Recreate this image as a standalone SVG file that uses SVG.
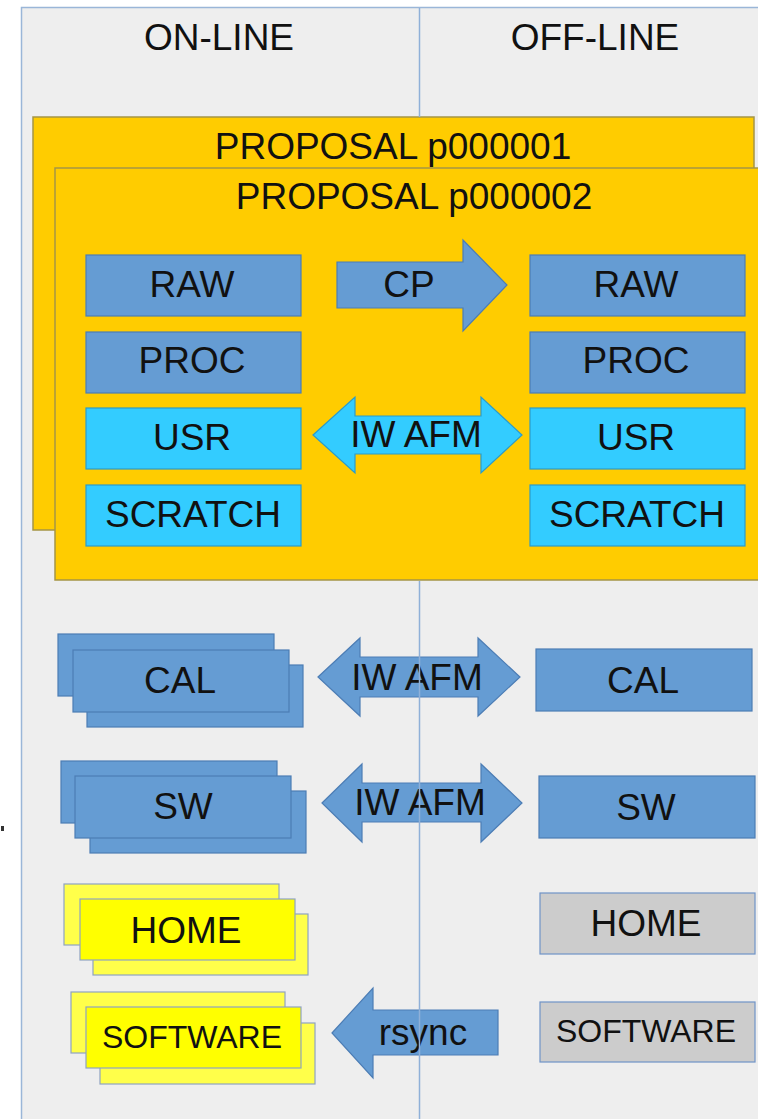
<svg xmlns="http://www.w3.org/2000/svg" width="758" height="1119" viewBox="0 0 758 1119">
<style>
text{font-family:"Liberation Sans",Arial,sans-serif;font-size:37px;fill:#111;text-anchor:middle}
.sm{font-size:32px}
.blue{fill:#659cd3;stroke:#4c7db5;stroke-width:1.2}
.cyan{fill:#33ccff;stroke:#2c9bc8;stroke-width:1.2}
.prop{fill:#ffcc00;stroke:#a59546;stroke-width:1.5}
.yel{fill:#ffff00;stroke:#8fa3c2;stroke-width:1.2}
.yelb{fill:#ffff4a;stroke:#8fa3c2;stroke-width:1.2}
.gray{fill:#cccccc;stroke:#6f93c7;stroke-width:1.2}
.div{stroke:#8fb0d8;stroke-width:1.5;fill:none}
</style>
<rect x="0" y="0" width="758" height="1119" fill="#ffffff"/>
<rect x="21.5" y="7.5" width="745" height="1120" fill="#eeeeee" stroke="#9ab6d8" stroke-width="1.5"/>
<rect x="1" y="826" width="3" height="5" fill="#333333"/>
<g id="headers">
<text x="219" y="50">ON-LINE</text>
<text x="595" y="50">OFF-LINE</text>
</g>
<g id="proposal1">
<rect class="prop" x="33" y="117" width="721" height="413"/>
<text x="393" y="159">PROPOSAL p000001</text>
</g>
<g id="proposal2">
<rect class="prop" x="55" y="168" width="710" height="412"/>
<text x="414" y="209">PROPOSAL p000002</text>
</g>
<g id="raw-on"><rect class="blue" x="86" y="255" width="215" height="61"/><text x="192" y="297">RAW</text></g>
<g id="proc-on"><rect class="blue" x="86" y="332" width="215" height="61"/><text x="192" y="373">PROC</text></g>
<g id="usr-on"><rect class="cyan" x="86" y="408" width="215" height="61"/><text x="192" y="450">USR</text></g>
<g id="scratch-on"><rect class="cyan" x="86" y="485" width="215" height="61"/><text x="193" y="527">SCRATCH</text></g>
<g id="raw-off"><rect class="blue" x="530" y="255" width="215" height="61"/><text x="636" y="297">RAW</text></g>
<g id="proc-off"><rect class="blue" x="530" y="332" width="215" height="61"/><text x="636" y="373">PROC</text></g>
<g id="usr-off"><rect class="cyan" x="530" y="408" width="215" height="61"/><text x="636" y="450">USR</text></g>
<g id="scratch-off"><rect class="cyan" x="530" y="485" width="215" height="61"/><text x="637" y="527">SCRATCH</text></g>
<g id="cal-on">
<rect class="blue" x="58" y="634" width="216" height="62"/>
<rect class="blue" x="87" y="665" width="216" height="62"/>
<rect class="blue" x="73" y="650" width="216" height="62"/>
<text x="180" y="693">CAL</text>
</g>
<g id="cal-off"><rect class="blue" x="536" y="649" width="216" height="62"/><text x="643" y="693">CAL</text></g>
<g id="sw-on">
<rect class="blue" x="61" y="761" width="216" height="62"/>
<rect class="blue" x="90" y="791" width="216" height="62"/>
<rect class="blue" x="75" y="776" width="216" height="62"/>
<text x="183" y="819">SW</text>
</g>
<g id="sw-off"><rect class="blue" x="539" y="776" width="216" height="62"/><text x="646" y="820">SW</text></g>
<g id="home-on">
<rect class="yelb" x="64" y="884" width="215" height="61"/>
<rect class="yelb" x="93" y="914" width="215" height="61"/>
<rect class="yel" x="80" y="899" width="215" height="61"/>
<text x="186" y="943">HOME</text>
</g>
<g id="home-off"><rect class="gray" x="540" y="893" width="215" height="61"/><text x="646" y="936">HOME</text></g>
<g id="software-on">
<rect class="yelb" x="71" y="992" width="214" height="61"/>
<rect class="yelb" x="100" y="1023" width="215" height="61"/>
<rect class="yel" x="86" y="1007" width="215" height="61"/>
<text class="sm" x="192" y="1048">SOFTWARE</text>
</g>
<g id="software-off"><rect class="gray" x="540" y="1002" width="215" height="60"/><text class="sm" x="646" y="1042">SOFTWARE</text></g>
<g id="connectors">
<g id="cp"><polygon class="blue" points="337,262 463,262 463,240 507,285 463,331 463,308 337,308"/><text x="409" y="297">CP</text></g>
<g id="iwafm-usr"><polygon class="cyan" points="313,435 355,397 355,416 481,416 481,397 522,435 481,473 481,454 355,454 355,473"/><text x="416" y="447">IW AFM</text></g>
<g id="iwafm-cal"><polygon class="blue" points="318,677 360,638 360,657 478,657 478,638 520,677 478,716 478,697 360,697 360,716"/><text x="417" y="690">IW AFM</text></g>
<g id="iwafm-sw"><polygon class="blue" points="322,803 362,764 362,783 481,783 481,764 522,803 481,842 481,822 362,822 362,842"/><text x="420" y="815">IW AFM</text></g>
<g id="rsync"><polygon class="blue" points="332,1033 373,988 373,1010 498,1010 498,1055 373,1055 373,1078"/><text x="423" y="1045">rsync</text></g>
</g>
<g id="divider">
<line class="div" x1="419.5" y1="8" x2="419.5" y2="117"/>
<line class="div" x1="419.5" y1="581" x2="419.5" y2="1119"/>
</g>
</svg>
